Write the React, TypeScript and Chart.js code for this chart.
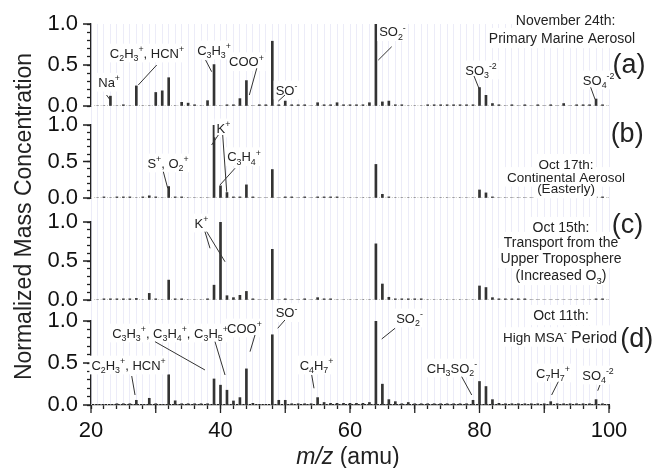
import React, { useEffect, useRef } from 'react';
import { Chart, registerables } from 'chart.js';

Chart.register(...registerables);

const FONT = '"Liberation Sans", Arial, Helvetica, sans-serif';

// m/z categories (amu)
const massToCharge: number[] = [
  21, 22, 23, 24, 25, 26, 27, 28, 29, 30,
  31, 32, 33, 34, 35, 36, 37, 38, 39, 40,
  41, 42, 43, 44, 45, 46, 47, 48, 49, 50,
  51, 52, 53, 54, 55, 56, 57, 58, 59, 60,
  61, 62, 63, 64, 65, 66, 67, 68, 69, 70,
  71, 72, 73, 74, 75, 76, 77, 78, 79, 80,
  81, 82, 83, 84, 85, 86, 87, 88, 89, 90,
  91, 92, 93, 94, 95, 96, 97, 98, 99, 100,
];

// (a) November 24th: Primary Marine Aerosol
const nov24Marine: number[] = [
  0, 0, 0.12, 0, 0.015, 0, 0.245, 0, 0, 0.165,
  0.185, 0.345, 0, 0.045, 0.035, 0.015, 0, 0.065, 0.505, 0,
  0.015, 0.015, 0.09, 0.31, 0, 0.015, 0.015, 0.79, 0.015, 0.06,
  0.015, 0.015, 0.015, 0, 0.04, 0.015, 0.015, 0.04, 0.015, 0.015,
  0.015, 0.015, 0.04, 1.0, 0.05, 0.06, 0.015, 0.015, 0, 0,
  0, 0.015, 0.015, 0.015, 0.015, 0.015, 0.015, 0.015, 0.015, 0.225,
  0.13, 0.03, 0.015, 0, 0.015, 0, 0.015, 0, 0.015, 0,
  0.015, 0, 0.03, 0, 0.015, 0.015, 0.015, 0.085, 0.015, 0,
];

// (b) Oct 17th: Continental Aerosol (Easterly)
const oct17Continental: number[] = [
  0, 0.015, 0, 0.015, 0.015, 0.015, 0, 0.015, 0.03, 0.015,
  0, 0.157, 0.015, 0.015, 0, 0, 0, 0, 1.0, 0.167,
  0.075, 0.015, 0.015, 0.18, 0.015, 0, 0, 0.39, 0, 0.015,
  0.015, 0, 0.015, 0, 0.015, 0.015, 0.015, 0.015, 0, 0,
  0, 0, 0, 0.46, 0.05, 0.015, 0, 0, 0, 0,
  0, 0, 0, 0, 0, 0, 0, 0, 0, 0.11,
  0.07, 0.015, 0, 0, 0, 0, 0, 0, 0, 0,
  0, 0, 0, 0, 0, 0, 0, 0.015, 0.015, 0,
];

// (c) Oct 15th: Transport from the Upper Troposphere
const oct15UpperTrop: number[] = [
  0, 0.015, 0.015, 0.015, 0.015, 0.015, 0.02, 0, 0.085, 0.015,
  0, 0.255, 0.015, 0.015, 0, 0, 0, 0.015, 0.19, 1.0,
  0.055, 0.03, 0.06, 0.11, 0.015, 0, 0, 0.65, 0, 0.015,
  0, 0, 0.015, 0, 0.03, 0.015, 0.015, 0, 0, 0,
  0, 0, 0, 0.72, 0.205, 0.035, 0.015, 0.015, 0.015, 0.015,
  0.015, 0, 0, 0, 0, 0, 0, 0, 0, 0.18,
  0.16, 0.03, 0.015, 0.015, 0.015, 0.015, 0.015, 0, 0, 0,
  0, 0, 0, 0, 0, 0, 0, 0.015, 0.015, 0,
];

// (d) Oct 11th: High MSA- Period
const oct11HighMSA: number[] = [
  0, 0, 0, 0.015, 0.015, 0.015, 0.056, 0, 0.08, 0.015,
  0, 0.36, 0.05, 0.015, 0.015, 0.015, 0.015, 0.015, 0.31, 0.236,
  0.176, 0.048, 0.088, 0.43, 0.02, 0, 0, 0.836, 0.056, 0.056,
  0.015, 0.015, 0.015, 0.015, 0.088, 0.03, 0.02, 0.02, 0.02, 0.02,
  0.02, 0.02, 0.03, 1.0, 0.248, 0.064, 0.04, 0.015, 0.03, 0.015,
  0.015, 0.015, 0.015, 0.015, 0.015, 0.015, 0.015, 0.015, 0.056, 0.28,
  0.22, 0.064, 0.02, 0.015, 0.015, 0.015, 0.015, 0.015, 0.015, 0.015,
  0.04, 0.015, 0.015, 0.015, 0.015, 0.015, 0.015, 0.064, 0.015, 0,
];

const panelValues = [nov24Marine, oct17Continental, oct15UpperTrop, oct11HighMSA];
const panelIds = ['ya', 'yb', 'yc', 'yd'];

const xTickLabels = [20, 40, 60, 80, 100];
const xMajorTicks = [20, 30, 40, 50, 60, 70, 80, 90, 100];
const yTickLabels = [0, 0.5, 1.0];

// layout (pixels) — kept apart from the data
const panelHeights = [82, 73, 78, 84];
const gapHeights = [19, 24, 21];

type Note = { axis: string; text: string; x: number; y: number; lines?: number[][]; size?: number; align?: string };

const peakLabels: Note[] = [
  { axis: 'ya', text: 'Na^{+}', x: 22.8, y: 0.29, lines: [[22.4, 0.134, 22.9, 0.08]] },
  { axis: 'ya', text: 'C_{2}H_{3}^{+}, HCN^{+}', x: 28.65, y: 0.646, lines: [[30.15, 0.5, 27.3, 0.256]] },
  { axis: 'ya', text: 'C_{3}H_{3}^{+}', x: 39.0, y: 0.683, lines: [[37.7, 0.56, 38.64, 0.418]] },
  { axis: 'ya', text: 'COO^{+}', x: 44.0, y: 0.54, lines: [[45.6, 0.46, 44.45, 0.134]] },
  { axis: 'ya', text: 'SO^{-}', x: 50.2, y: 0.195, lines: [[49.96, 0.134, 48.93, 0.06]] },
  { axis: 'ya', text: 'SO_{2}^{-}', x: 66.56, y: 0.906, lines: [[66.44, 0.723, 64.37, 0.56]] },
  { axis: 'ya', text: 'SO_{3}^{-2}', x: 80.23, y: 0.44, lines: [[79.15, 0.366, 79.97, 0.204]] },
  { axis: 'ya', text: 'SO_{4}^{-2}', x: 98.4, y: 0.317, lines: [[97.17, 0.228, 97.84, 0.082]] },
  { axis: 'yb', text: 'S^{+}, O_{2}^{+}', x: 31.9, y: 0.48, lines: [[31.17, 0.36, 31.85, 0.133]] },
  { axis: 'yb', text: 'K^{+}', x: 40.46, y: 0.96, lines: [[39.66, 0.863, 38.63, 0.726], [40.34, 0.863, 40.96, 0.086]] },
  { axis: 'yb', text: 'C_{3}H_{4}^{+}', x: 43.63, y: 0.566, lines: [[42.24, 0.407, 39.92, 0.178]] },
  { axis: 'yc', text: 'K^{+}', x: 37.07, y: 0.987, lines: [[37.6, 0.876, 38.38, 0.663], [37.87, 0.876, 40.7, 0.49]] },
  { axis: 'yd', text: 'C_{2}H_{3}^{+}, HCN^{+}', x: 25.8, y: 0.476, lines: [[26.29, 0.345, 26.8, 0.119]] },
  { axis: 'yd', text: 'C_{3}H_{3}^{+}, C_{3}H_{4}^{+}, C_{3}H_{5}^{+}', x: 32.2, y: 0.857, lines: [[29.88, 0.754, 37.6, 0.417], [39.15, 0.754, 40.7, 0.357]] },
  { axis: 'yd', text: 'COO^{+}', x: 43.7, y: 0.917, lines: [[45.33, 0.833, 44.56, 0.635]] },
  { axis: 'yd', text: 'SO^{-}', x: 50.2, y: 1.1, lines: [[49.96, 1.012, 48.83, 0.913]] },
  { axis: 'yd', text: 'C_{4}H_{7}^{+}', x: 54.83, y: 0.476, lines: [[54.09, 0.357, 54.44, 0.199]] },
  { axis: 'yd', text: 'SO_{2}^{-}', x: 69.19, y: 1.036, lines: [[66.95, 0.913, 64.9, 0.786]] },
  { axis: 'yd', text: 'CH_{3}SO_{2}^{-}', x: 75.75, y: 0.44, lines: [[77.25, 0.337, 78.8, 0.119]] },
  { axis: 'yd', text: 'C_{7}H_{7}^{+}', x: 91.35, y: 0.381, lines: [[92.17, 0.277, 91.14, 0.119]] },
  { axis: 'yd', text: 'SO_{4}^{-2}', x: 98.3, y: 0.357, lines: [[98.6, 0.238, 98.26, 0.17]] },
];

const panelNotes: Note[] = [
  { axis: 'ya', text: 'November 24th:', x: 93.3, y: 1.049, size: 14 },
  { axis: 'ya', text: 'Primary Marine Aerosol', x: 92.74, y: 0.829, size: 14 },
  { axis: 'ya', text: '(a)', x: 103.1, y: 0.524, size: 27 },
  { axis: 'yb', text: '(b)', x: 102.8, y: 0.904, size: 27 },
  { axis: 'yb', text: 'Oct 17th:', x: 93.36, y: 0.47, size: 13.5 },
  { axis: 'yb', text: 'Continental Aerosol', x: 93.36, y: 0.29, size: 13.5 },
  { axis: 'yb', text: '(Easterly)', x: 93.36, y: 0.13, size: 13.5 },
  { axis: 'yc', text: '(c)', x: 102.86, y: 0.987, size: 27 },
  { axis: 'yc', text: 'Oct 15th:', x: 92.59, y: 0.936, size: 14 },
  { axis: 'yc', text: 'Transport from the', x: 92.59, y: 0.744, size: 14 },
  { axis: 'yc', text: 'Upper Troposphere', x: 92.59, y: 0.538, size: 14 },
  { axis: 'yc', text: '(Increased O_{3})', x: 92.59, y: 0.32, size: 14 },
  { axis: 'yd', text: 'Oct 11th:', x: 92.59, y: 1.071, size: 14 },
  { axis: 'yd', text: 'High MSA^{-}', x: 83.63, y: 0.81, size: 13.5, align: 'left' },
  { axis: 'yd', text: 'Period', x: 94.13, y: 0.81, size: 16, align: 'left' },
  { axis: 'yd', text: '(d)', x: 104.3, y: 0.81, size: 27 },
];

type Seg = { t: string; k: 'n' | 'sub' | 'sup' | 'it' };

function richSegments(s: string): Seg[] {
  const out: Seg[] = [];
  const re = /([_^~])\{([^}]*)\}/g;
  let last = 0;
  let m: RegExpExecArray | null;
  while ((m = re.exec(s))) {
    if (m.index > last) out.push({ t: s.slice(last, m.index), k: 'n' });
    out.push({ t: m[2], k: m[1] === '_' ? 'sub' : m[1] === '^' ? 'sup' : 'it' });
    last = re.lastIndex;
  }
  if (last < s.length) out.push({ t: s.slice(last), k: 'n' });
  return out;
}

// mode: 'bg' paints the white box only, 'text' paints the text only
function drawRich(ctx: CanvasRenderingContext2D, s: string, x: number, y: number, size: number, align = 'center', mode = 'text') {
  const segs = richSegments(s);
  const small = size * 0.68;
  const fontOf = (k: string) =>
    k === 'it' ? `italic ${size}px ${FONT}` : `${k === 'n' ? size : small}px ${FONT}`;
  let w = 0;
  const ws = segs.map((sg) => {
    ctx.font = fontOf(sg.k);
    const mw = ctx.measureText(sg.t).width;
    w += mw;
    return mw;
  });
  let x0 = align === 'center' ? x - w / 2 : align === 'right' ? x - w : x;
  if (mode === 'bg') {
    ctx.fillStyle = '#ffffff';
    ctx.fillRect(x0 - 2, y - size * 0.72, w + 4, size * 1.44);
    return;
  }
  ctx.fillStyle = '#222222';
  ctx.textAlign = 'left';
  ctx.textBaseline = 'alphabetic';
  const base = y + size * 0.36;
  segs.forEach((sg, i) => {
    ctx.font = fontOf(sg.k);
    const dy = sg.k === 'sub' ? size * 0.28 : sg.k === 'sup' ? -size * 0.42 : 0;
    ctx.fillText(sg.t, x0, base + dy);
    x0 += ws[i];
  });
}

const decorPlugin = {
  id: 'spectraDecor',
  beforeDatasetsDraw(chart: any) {
    const ctx = chart.ctx as CanvasRenderingContext2D;
    const { left, right } = chart.chartArea;
    ctx.save();
    ctx.strokeStyle = '#c4c4c4';
    ctx.lineWidth = 1;
    ctx.setLineDash([1, 2.2]);
    panelIds.forEach((id) => {
      const y0 = Math.round(chart.scales[id].getPixelForValue(0)) - 0.5;
      ctx.beginPath();
      ctx.moveTo(left, y0);
      ctx.lineTo(right, y0);
      ctx.stroke();
    });
    ctx.restore();
  },
  afterDraw(chart: any) {
    const ctx = chart.ctx as CanvasRenderingContext2D;
    const xs = chart.scales.x;
    const { left, bottom, top } = chart.chartArea;
    ctx.save();
    // major tick marks
    ctx.strokeStyle = '#222222';
    ctx.lineWidth = 1.3;
    ctx.beginPath();
    xMajorTicks.forEach((v) => {
      const px = xs.getPixelForValue(v);
      ctx.moveTo(px, bottom);
      ctx.lineTo(px, bottom + 8);
    });
    panelIds.forEach((id) => {
      yTickLabels.forEach((v) => {
        const py = chart.scales[id].getPixelForValue(v);
        ctx.moveTo(left - 8, py);
        ctx.lineTo(left, py);
      });
    });
    ctx.stroke();

    const items = [
      ...peakLabels.map((a) => ({ ...a, size: 13, align: 'center', bg: true })),
      ...panelNotes.map((n) => ({ ...n, size: n.size || 14, align: n.align || 'center', bg: (n.size || 14) < 20 })),
    ];
    const pos = (a: Note) => [xs.getPixelForValue(a.x), chart.scales[a.axis].getPixelForValue(a.y)];

    // 1) white boxes behind texts
    items.forEach((a) => {
      if (!a.bg) return;
      const [px, py] = pos(a);
      drawRich(ctx, a.text, px, py, a.size, a.align, 'bg');
    });
    // 2) leader lines
    ctx.lineWidth = 1;
    ctx.strokeStyle = '#333333';
    peakLabels.forEach((a) => {
      const ys = chart.scales[a.axis];
      (a.lines || []).forEach((l) => {
        ctx.beginPath();
        ctx.moveTo(xs.getPixelForValue(l[0]), ys.getPixelForValue(l[1]));
        ctx.lineTo(xs.getPixelForValue(l[2]), ys.getPixelForValue(l[3]));
        ctx.stroke();
      });
    });
    // 3) texts
    items.forEach((a) => {
      const [px, py] = pos(a);
      drawRich(ctx, a.text, px, py, a.size, a.align, 'text');
    });

    // axis titles
    ctx.save();
    ctx.translate(23, (top + bottom) / 2 + 2);
    ctx.rotate(-Math.PI / 2);
    drawRich(ctx, 'Normalized Mass Concentration', 0, 0, 23, 'center', 'text');
    ctx.restore();
    drawRich(ctx, '~{m/z} (amu)', (xs.left + xs.right) / 2 - 2, 456, 23, 'center', 'text');
    ctx.restore();
  },
};

export default function App() {
  const ref = useRef<HTMLCanvasElement>(null);
  useEffect(() => {
    const scales: any = {
      x: {
        type: 'linear',
        position: 'bottom',
        min: 20,
        max: 100,
        offset: false,
        afterFit: (s: any) => {
          s.height = 63;
        },
        ticks: {
          stepSize: 1,
          autoSkip: false,
          maxRotation: 0,
          minRotation: 0,
          padding: 9,
          color: '#111111',
          font: { family: FONT, size: 22 },
          callback: (v: any) => (xTickLabels.includes(Number(v)) ? String(v) : ''),
        },
        grid: {
          offset: false,
          color: '#ececf8',
          lineWidth: 1,
          tickLength: 4,
          tickWidth: 1.3,
          tickColor: (c: any) => (c.tick && Math.round(c.tick.value) % 2 === 0 ? '#222222' : 'rgba(0,0,0,0)'),
        },
        border: { display: true, color: '#222222', width: 1.3 },
      },
    };
    panelIds.forEach((id, i) => {
      scales[id] = {
        type: 'linear',
        position: 'left',
        stack: 'panels',
        stackWeight: panelHeights[i],
        weight: 10 - 2 * i,
        min: 0,
        max: 1,
        afterFit: (s: any) => {
          s.width = 91;
        },
        ticks: {
          stepSize: 0.1,
          autoSkip: false,
          padding: 9,
          color: '#111111',
          font: { family: FONT, size: 22 },
          callback: (v: any) => {
            const n = Number(v);
            return yTickLabels.some((t) => Math.abs(t - n) < 1e-6) ? n.toFixed(1) : '';
          },
        },
        grid: { drawOnChartArea: false, tickLength: 4, tickColor: '#222222', tickWidth: 1.3 },
        border: { display: true, color: '#222222', width: 1.3 },
      };
      if (i < gapHeights.length) {
        scales['gap' + i] = {
          type: 'linear',
          position: 'left',
          display: false,
          stack: 'panels',
          stackWeight: gapHeights[i],
          weight: 9 - 2 * i,
          min: 0,
          max: 1,
        };
      }
    });

    const chart = new Chart(ref.current as HTMLCanvasElement, {
      type: 'bar',
      data: {
        datasets: panelIds.map((id, i) => ({
          label: id,
          data: massToCharge.map((m, j) => ({ x: m, y: panelValues[i][j] })),
          xAxisID: 'x',
          yAxisID: id,
          backgroundColor: '#333333',
          borderWidth: 0,
          barThickness: 2,
          grouped: false,
        })) as any,
      },
      options: {
        animation: false,
        responsive: false,
        devicePixelRatio: 1,
        events: [],
        layout: { padding: { left: 0, right: 45, top: 24, bottom: 0 } },
        plugins: { legend: { display: false }, tooltip: { enabled: false }, title: { display: false } },
        scales,
      } as any,
      plugins: [decorPlugin as any],
    });
    return () => chart.destroy();
  }, []);

  return (
    <div style={{ position: 'absolute', left: 0, top: 0, width: 654, height: 468, background: '#ffffff' }}>
      <canvas ref={ref} width={654} height={468} style={{ display: 'block', width: 654, height: 468 }} />
    </div>
  );
}
